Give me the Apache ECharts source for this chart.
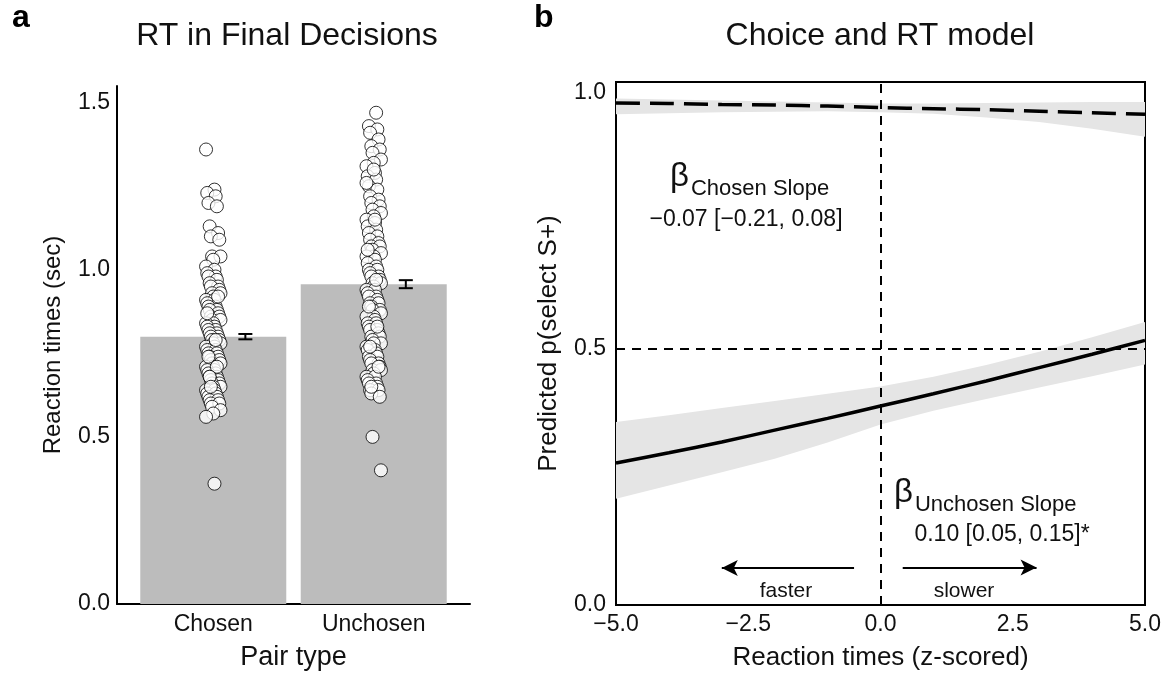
<!DOCTYPE html>
<html><head><meta charset="utf-8">
<script src="https://cdn.jsdelivr.net/npm/echarts@6/dist/echarts.min.js"></script>
<style>html,body{margin:0;padding:0;background:#fff}#c{width:1167px;height:676px}</style>
</head><body><div id="c"></div>
<script>
// ---------- Panel a data ----------
const categories = ['Chosen', 'Unchosen'];
const barMeans = [0.800, 0.957];
const barSE = [0.008, 0.012];
const chosenRT = [
  1.36, 1.24, 1.23, 1.22, 1.20, 1.19, 1.13, 1.11, 1.10, 1.09,
  1.04, 1.04, 1.03, 1.01, 1.00, 0.99, 0.98, 0.98, 0.97, 0.96,
  0.95, 0.95, 0.94, 0.93, 0.93, 0.92, 0.91, 0.91, 0.90, 0.89,
  0.89, 0.88, 0.88, 0.87, 0.86, 0.86, 0.85, 0.85, 0.84, 0.84,
  0.83, 0.83, 0.82, 0.82, 0.81, 0.81, 0.80, 0.80, 0.79, 0.79,
  0.78, 0.78, 0.77, 0.77, 0.76, 0.76, 0.75, 0.75, 0.74, 0.74,
  0.73, 0.73, 0.72, 0.72, 0.71, 0.71, 0.70, 0.70, 0.69, 0.69,
  0.68, 0.68, 0.67, 0.67, 0.66, 0.66, 0.65, 0.65, 0.64, 0.64,
  0.63, 0.63, 0.62, 0.62, 0.61, 0.61, 0.60, 0.60, 0.59, 0.58,
  0.57, 0.56, 0.36, 0.87, 0.79, 0.74, 0.71, 0.68, 0.92, 0.65
];
const unchosenRT = [
  1.47, 1.43, 1.42, 1.41, 1.39, 1.37, 1.36, 1.35, 1.33, 1.32,
  1.31, 1.29, 1.28, 1.27, 1.25, 1.24, 1.22, 1.21, 1.20, 1.19,
  1.18, 1.17, 1.16, 1.15, 1.14, 1.13, 1.12, 1.11, 1.10, 1.09,
  1.08, 1.07, 1.07, 1.06, 1.05, 1.04, 1.04, 1.03, 1.02, 1.01,
  1.00, 1.00, 0.99, 0.98, 0.98, 0.97, 0.96, 0.96, 0.95, 0.94,
  0.94, 0.93, 0.92, 0.92, 0.91, 0.90, 0.90, 0.89, 0.88, 0.88,
  0.87, 0.86, 0.86, 0.85, 0.84, 0.84, 0.83, 0.82, 0.82, 0.81,
  0.80, 0.80, 0.79, 0.78, 0.78, 0.77, 0.76, 0.76, 0.75, 0.74,
  0.74, 0.73, 0.72, 0.72, 0.71, 0.70, 0.70, 0.69, 0.68, 0.68,
  0.67, 0.66, 0.66, 0.65, 0.64, 0.64, 0.63, 0.62, 0.50, 0.40,
  1.30, 1.26, 1.15, 1.06, 0.97, 0.89, 0.83, 0.77, 0.71, 0.65
];
const aYTicks = [0, 0.5, 1.0, 1.5];

// ---------- Panel b data ----------
const rtZ = [-5, -4, -3, -2, -1, 0, 1, 2, 3, 4, 5];
const chosenFit = [0.979, 0.978, 0.976, 0.975, 0.973, 0.970, 0.968, 0.966, 0.963, 0.960, 0.957];
const chosenHi  = [0.988, 0.986, 0.984, 0.982, 0.980, 0.978, 0.978, 0.979, 0.980, 0.981, 0.981];
const chosenLo  = [0.957, 0.959, 0.961, 0.962, 0.963, 0.961, 0.958, 0.951, 0.942, 0.929, 0.913];
const unchosenFit = [0.277, 0.297, 0.318, 0.341, 0.364, 0.388, 0.412, 0.437, 0.463, 0.489, 0.516];
const unchosenHi  = [0.357, 0.370, 0.384, 0.398, 0.412, 0.426, 0.445, 0.468, 0.494, 0.522, 0.552];
const unchosenLo  = [0.207, 0.233, 0.259, 0.285, 0.317, 0.352, 0.379, 0.402, 0.424, 0.446, 0.469];
const bXTicks = [-5, -2.5, 0, 2.5, 5];
const bYTicks = [0, 0.5, 1.0];
const chosenSlopeText = '\u22120.07 [\u22120.21, 0.08]';
const unchosenSlopeText = '0.10 [0.05, 0.15]*';

// ---------- build ----------
const FONT = 'Liberation Sans, Arial, sans-serif';
const chart = echarts.init(document.getElementById('c'), null, {renderer: 'canvas'});
const fmt1 = v => (v < 0 ? '\u2212' : '') + Math.abs(v).toFixed(1);
const jitter = i => (((i * 7) % 13) - 6) / 6 * 0.045;

function bandItem(lo, hi) {
  return function (params, api) {
    const pts = [];
    for (let i = 0; i < rtZ.length; i++) pts.push(api.coord([rtZ[i], hi[i]]));
    for (let i = rtZ.length - 1; i >= 0; i--) pts.push(api.coord([rtZ[i], lo[i]]));
    return {type: 'polygon', shape: {points: pts}, style: {fill: '#e5e5e5'}};
  };
}
const TICK = 23, NAME = 26;

const option = {
  backgroundColor: '#fff',
  animation: false,
  textStyle: {fontFamily: FONT, color: '#111'},
  title: [
    {text: 'RT in Final Decisions', left: 287, top: 20, textAlign: 'center', padding: 0,
      textStyle: {fontFamily: FONT, fontSize: 32, fontWeight: 'normal', color: '#111'}},
    {text: 'Choice and RT model', left: 880, top: 20, textAlign: 'center', padding: 0,
      textStyle: {fontFamily: FONT, fontSize: 32, fontWeight: 'normal', color: '#111'}}
  ],
  grid: [
    {left: 117, width: 353, top: 86, bottom: 66},
    {left: 616, right: 22, top: 82, bottom: 67, show: true, borderColor: '#000', borderWidth: 2, backgroundColor: 'transparent'}
  ],
  xAxis: [
    {gridIndex: 0, type: 'value', min: 0.4, max: 2.6,
      axisLine: {show: true, onZero: false, lineStyle: {color: '#000', width: 2}},
      axisTick: {show: false}, splitLine: {show: false},
      axisLabel: {customValues: [1, 2], formatter: v => categories[Math.round(v) - 1] || '',
        fontSize: TICK, color: '#111', margin: 9, fontFamily: FONT},
      name: 'Pair type', nameLocation: 'middle', nameGap: 40,
      nameTextStyle: {fontSize: 27, color: '#111', fontFamily: FONT}},
    {gridIndex: 1, type: 'value', min: -5, max: 5, interval: 2.5,
      axisLine: {show: false}, axisTick: {show: false}, splitLine: {show: false},
      axisLabel: {formatter: fmt1, fontSize: TICK, color: '#111', margin: 8, fontFamily: FONT},
      name: 'Reaction times (z-scored)', nameLocation: 'middle', nameGap: 40,
      nameTextStyle: {fontSize: NAME, color: '#111', fontFamily: FONT}},
  ],
  yAxis: [
    {gridIndex: 0, type: 'value', min: 0, max: 1.55,
      axisLine: {show: true, lineStyle: {color: '#000', width: 2}},
      axisTick: {show: false}, splitLine: {show: false},
      axisLabel: {customValues: aYTicks, formatter: v => v.toFixed(1), fontSize: TICK, color: '#111', margin: 7, fontFamily: FONT},
      name: 'Reaction times (sec)', nameLocation: 'middle', nameGap: 52,
      nameTextStyle: {fontSize: 24, color: '#111', fontFamily: FONT}},
    {gridIndex: 1, type: 'value', min: 0, max: 1.02,
      axisLine: {show: false}, axisTick: {show: false}, splitLine: {show: false},
      axisLabel: {customValues: bYTicks, formatter: v => v.toFixed(1), fontSize: TICK, color: '#111', margin: 10, fontFamily: FONT},
      name: 'Predicted p(select S+)', nameLocation: 'middle', nameGap: 54,
      nameTextStyle: {fontSize: NAME, color: '#111', fontFamily: FONT}}
  ],
  series: [
    // panel a
    {type: 'bar', xAxisIndex: 0, yAxisIndex: 0, barWidth: 146,
      data: categories.map((c, i) => [i + 1, barMeans[i]]),
      itemStyle: {color: '#bcbcbc'}, z: 1},
    {type: 'custom', xAxisIndex: 0, yAxisIndex: 0, z: 3,
      data: categories.map((c, i) => [i + 1.2, barMeans[i] - barSE[i], barMeans[i] + barSE[i]]),
      renderItem: function (params, api) {
        const lo = api.coord([api.value(0), api.value(1)]);
        const hi = api.coord([api.value(0), api.value(2)]);
        const w = 7, st = {stroke: '#000', lineWidth: 2};
        return {type: 'group', children: [
          {type: 'line', shape: {x1: lo[0], y1: lo[1], x2: hi[0], y2: hi[1]}, style: st},
          {type: 'line', shape: {x1: lo[0] - w, y1: lo[1], x2: lo[0] + w, y2: lo[1]}, style: st},
          {type: 'line', shape: {x1: hi[0] - w, y1: hi[1], x2: hi[0] + w, y2: hi[1]}, style: st}
        ]};
      }},
    {type: 'scatter', xAxisIndex: 0, yAxisIndex: 0, z: 4, symbolSize: 13,
      data: chosenRT.map((v, i) => [1 + jitter(i), v]),
      itemStyle: {color: '#fff', borderColor: '#000', borderWidth: 1}},
    {type: 'scatter', xAxisIndex: 0, yAxisIndex: 0, z: 4, symbolSize: 13,
      data: unchosenRT.map((v, i) => [2 + jitter(i + 3), v]),
      itemStyle: {color: '#fff', borderColor: '#000', borderWidth: 1}},
    // panel b bands
    {type: 'custom', xAxisIndex: 1, yAxisIndex: 1, z: 1, clip: true,
      data: [[0, 0.98]], renderItem: bandItem(chosenLo, chosenHi)},
    {type: 'custom', xAxisIndex: 1, yAxisIndex: 1, z: 1, clip: true,
      data: [[0, 0.4]], renderItem: bandItem(unchosenLo, unchosenHi)},
    // reference lines + arrows
    {type: 'line', xAxisIndex: 1, yAxisIndex: 1, data: [], z: 2,
      markLine: {silent: true, symbol: ['none', 'none'], label: {show: false},
        lineStyle: {color: '#000', width: 2, type: [9, 7]},
        data: [{yAxis: 0.5}, {xAxis: 0}]}},
    {type: 'line', xAxisIndex: 1, yAxisIndex: 1, data: [], z: 2,
      markLine: {silent: true, symbol: ['none', 'arrow'], symbolSize: [12, 16], label: {show: false},
        lineStyle: {color: '#000', width: 2, type: 'solid'},
        data: [
          [{coord: [-0.5, 0.072]}, {coord: [-3.0, 0.072]}],
          [{coord: [0.42, 0.073]}, {coord: [2.95, 0.073]}]
        ]}},
    // fitted curves
    {type: 'line', xAxisIndex: 1, yAxisIndex: 1, z: 3, symbol: 'none', smooth: 0.3,
      data: rtZ.map((x, i) => [x, chosenFit[i]]),
      lineStyle: {color: '#000', width: 3.5, type: [24, 10]}},
    {type: 'line', xAxisIndex: 1, yAxisIndex: 1, z: 3, symbol: 'none', smooth: 0.3,
      data: rtZ.map((x, i) => [x, unchosenFit[i]]),
      lineStyle: {color: '#000', width: 3.5}}
  ],
  graphic: [
    {type: 'text', left: 12, top: 2, style: {text: 'a', font: 'bold 32px ' + FONT, fill: '#000'}},
    {type: 'text', left: 534, top: 2, style: {text: 'b', font: 'bold 32px ' + FONT, fill: '#000'}},
    {type: 'text', x: 670, y: 160, style: {
      text: '{b|\u03b2}{s|Chosen Slope}', rich: {
        b: {fontSize: 33, fontFamily: FONT, fill: '#111', verticalAlign: 'bottom'},
        s: {fontSize: 22, fontFamily: FONT, fill: '#111', verticalAlign: 'bottom', padding: [0, 0, -7, 2]}
      }}},
    {type: 'text', x: 746, y: 220, style: {text: chosenSlopeText, font: '23px ' + FONT, fill: '#111', align: 'center', verticalAlign: 'middle'}},
    {type: 'text', x: 894, y: 476, style: {
      text: '{b|\u03b2}{s|Unchosen Slope}', rich: {
        b: {fontSize: 33, fontFamily: FONT, fill: '#111', verticalAlign: 'bottom'},
        s: {fontSize: 22, fontFamily: FONT, fill: '#111', verticalAlign: 'bottom', padding: [0, 0, -7, 2]}
      }}},
    {type: 'text', x: 1002, y: 535, style: {text: unchosenSlopeText, font: '23px ' + FONT, fill: '#111', align: 'center', verticalAlign: 'middle'}},
    {type: 'text', x: 786, y: 591, style: {text: 'faster', font: '21px ' + FONT, fill: '#111', align: 'center', verticalAlign: 'middle'}},
    {type: 'text', x: 964, y: 591, style: {text: 'slower', font: '21px ' + FONT, fill: '#111', align: 'center', verticalAlign: 'middle'}}
  ]
};
chart.setOption(option);
</script></body></html>
